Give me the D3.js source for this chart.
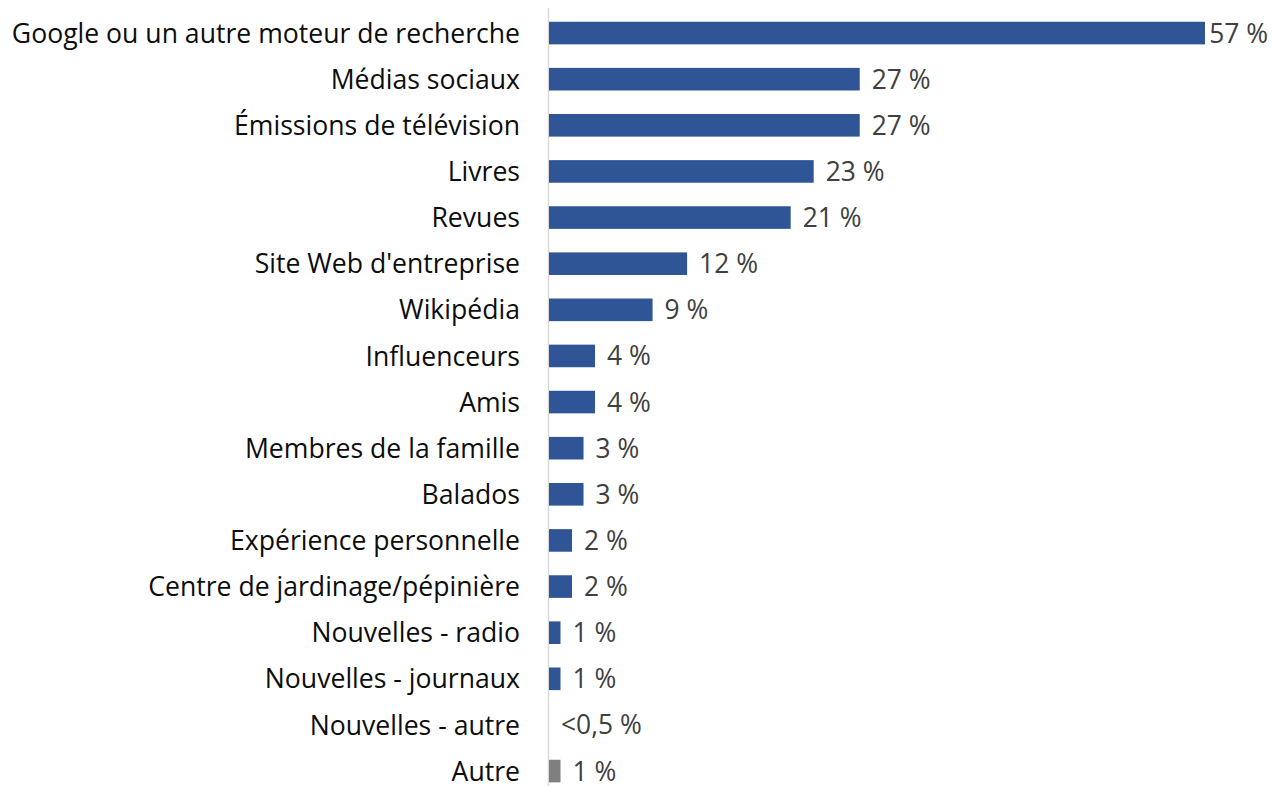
<!DOCTYPE html>
<html>
<head>
<meta charset="utf-8">
<script src="https://cdn.jsdelivr.net/npm/d3@7"></script>
<style>
  body { margin: 0; background: #fff; }
  svg { display: block; }
  text { font-family: 'Open Sans', Lato, sans-serif; }
</style>
</head>
<body>
<div class="graph"><svg></svg></div>
<script>
const categories = [
  'Google ou un autre moteur de recherche',
  'Médias sociaux',
  'Émissions de télévision',
  'Livres',
  'Revues',
  "Site Web d'entreprise",
  'Wikipédia',
  'Influenceurs',
  'Amis',
  'Membres de la famille',
  'Balados',
  'Expérience personnelle',
  'Centre de jardinage/pépinière',
  'Nouvelles - radio',
  'Nouvelles - journaux',
  'Nouvelles - autre',
  'Autre'
]
const values = [57, 27, 27, 23, 21, 12, 9, 4, 4, 3, 3, 2, 2, 1, 1, 0, 1]
const valueLabels = ['57 %', '27 %', '27 %', '23 %', '21 %', '12 %', '9 %', '4 %', '4 %',
  '3 %', '3 %', '2 %', '2 %', '1 %', '1 %', '<0,5 %', '1 %']
const grayCategories = ['Autre']

const width = 1272
const height = 786

const svg = d3.select('.graph').select('svg')
  .attr('width', width)
  .attr('height', height)

const x = d3.scaleLinear().domain([0, 57]).range([549, 1205])
const y = d3.scaleBand().domain(categories).range([10, 10 + 17 * 46.125]).paddingInner(0.51).paddingOuter(0.255)

// vertical axis line
svg.append('line')
  .attr('x1', x(0) - 0.5).attr('x2', x(0) - 0.5)
  .attr('y1', 8).attr('y2', 786)
  .attr('stroke', '#d9d9d9')
  .attr('stroke-width', 1.5)

svg.append('g')
  .selectAll('rect')
  .data(categories)
  .join('rect')
  .attr('x', x(0))
  .attr('y', d => y(d))
  .attr('height', y.bandwidth())
  .attr('width', (d, i) => x(values[i]) - x(0))
  .attr('fill', d => grayCategories.includes(d) ? '#7f7f7f' : '#2f5597')

// category labels
svg.append('g')
  .selectAll('text')
  .data(categories)
  .join('text')
  .attr('x', 520)
  .attr('y', d => y(d) + y.bandwidth() / 2)
  .attr('dy', '0.36em')
  .attr('text-anchor', 'end')
  .attr('font-size', 26.6)
  .attr('fill', '#0d0d0d')
  .text(d => d)

// value labels
svg.append('g')
  .selectAll('text')
  .data(categories)
  .join('text')
  .attr('y', d => y(d) + y.bandwidth() / 2)
  .attr('dy', '0.36em')
  .attr('font-size', 26.4)
  .attr('fill', '#404040')
  .text((d, i) => valueLabels[i])
  .attr('x', function (d, i) {
    const w = this.getComputedTextLength()
    return Math.min(x(values[i]) + 12, width - 4 - w)
  })
</script>
</body>
</html>
